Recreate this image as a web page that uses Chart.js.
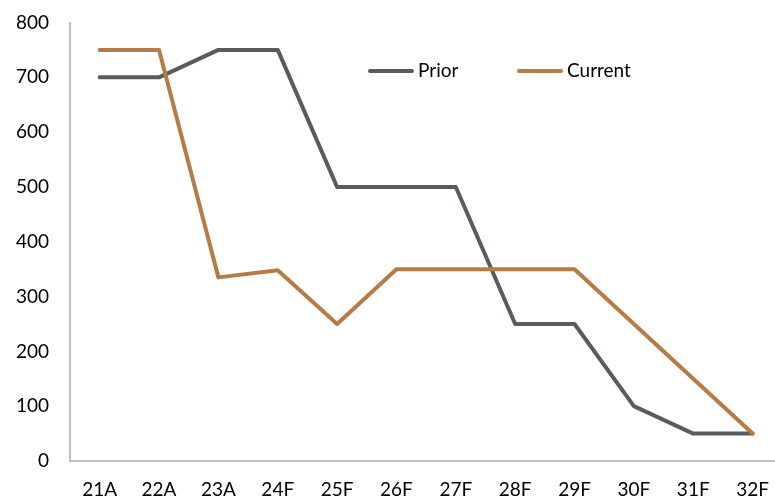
<!DOCTYPE html>
<html>
<head>
<meta charset="utf-8">
<script src="https://cdn.jsdelivr.net/npm/chart.js@4/dist/chart.umd.min.js"></script>
<style>
  html, body { margin: 0; padding: 0; background: #fff; overflow: hidden; }
  #wrap { width: 786px; height: 520px; position: relative; }
</style>
</head>
<body>
<div id="wrap"><canvas id="chart"></canvas></div>
<script>
// Forecast periods (A = actual, F = forecast)
const categories = ['21A', '22A', '23A', '24F', '25F', '26F', '27F', '28F', '29F', '30F', '31F', '32F'];
const priorValues = [700, 700, 750, 750, 500, 500, 500, 250, 250, 100, 50, 50];
const currentValues = [750, 750, 335, 348, 250, 350, 350, 350, 350, 250, 150, 50];
const yTicks = [0, 100, 200, 300, 400, 500, 600, 700, 800];

const PRIOR_COLOR = '#585c61';
const CURRENT_COLOR = '#b77b46';
const AXIS_COLOR = '#bfbfbf';
const FONT = 'Lato, "Liberation Sans", sans-serif';
const FONT_SIZE = 19;

// Legend drawn inside the plot, near the top, with line swatches
const inlineLegend = {
  id: 'inlineLegend',
  afterDatasetsDraw(chart) {
    const { ctx, chartArea } = chart;
    const y = chartArea.top + 48.5;
    const items = [
      { label: 'Prior', color: PRIOR_COLOR, x: chartArea.left + 298 },
      { label: 'Current', color: CURRENT_COLOR, x: chartArea.left + 447 }
    ];
    ctx.save();
    ctx.font = FONT_SIZE + 'px ' + FONT;
    ctx.textBaseline = 'middle';
    ctx.textAlign = 'left';
    items.forEach(it => {
      ctx.strokeStyle = it.color;
      ctx.lineWidth = 4;
      ctx.lineCap = 'round';
      ctx.beginPath();
      ctx.moveTo(it.x + 2, y);
      ctx.lineTo(it.x + 44, y);
      ctx.stroke();
      ctx.fillStyle = '#000';
      ctx.fillText(it.label, it.x + 50, y);
    });
    ctx.restore();
  }
};

new Chart(document.getElementById('chart'), {
  type: 'line',
  data: {
    labels: categories,
    datasets: [
      {
        label: 'Prior',
        data: priorValues,
        borderColor: PRIOR_COLOR,
        backgroundColor: PRIOR_COLOR,
        borderWidth: 4,
        pointRadius: 0,
        tension: 0,
        borderCapStyle: 'round',
        borderJoinStyle: 'round',
        order: 1
      },
      {
        label: 'Current',
        data: currentValues,
        borderColor: CURRENT_COLOR,
        backgroundColor: CURRENT_COLOR,
        borderWidth: 4,
        pointRadius: 0,
        tension: 0,
        borderCapStyle: 'round',
        borderJoinStyle: 'round',
        order: 0
      }
    ]
  },
  options: {
    responsive: true,
    maintainAspectRatio: false,
    animation: false,
    layout: { autoPadding: false, padding: 0 },
    plugins: {
      legend: { display: false },
      tooltip: { enabled: false }
    },
    scales: {
      x: {
        offset: true,
        grid: { display: false, drawTicks: false },
        border: { display: true, color: AXIS_COLOR, width: 2 },
        ticks: { color: '#000', font: { family: FONT, size: FONT_SIZE }, padding: 17, maxRotation: 0, autoSkip: false },
        afterFit(scale) { scale.height = 59; }
      },
      y: {
        min: 0,
        max: 800,
        afterBuildTicks(scale) { scale.ticks = yTicks.map(v => ({ value: v })); },
        grid: { display: false, drawTicks: false },
        border: { display: true, color: AXIS_COLOR, width: 2 },
        ticks: { color: '#000', font: { family: FONT, size: FONT_SIZE }, padding: 21 },
        afterFit(scale) {
          scale.width = 70;
          scale.paddingTop = 22.5;
        }
      }
    }
  },
  plugins: [inlineLegend]
});
</script>
</body>
</html>
